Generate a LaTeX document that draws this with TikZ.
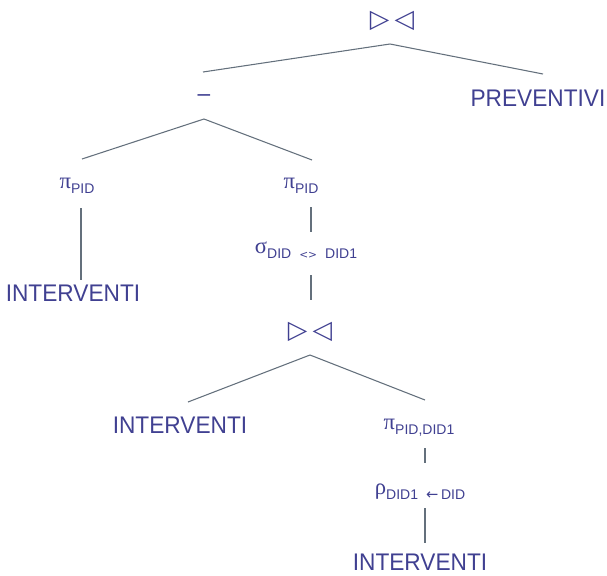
\documentclass[tikz,border=0pt]{standalone}
\usepackage{fontspec}
\setmainfont{Liberation Sans}
\newfontfamily\grkfont{Liberation Serif}
\newfontfamily\symfont{DejaVu Sans}
\usetikzlibrary{calc}
\definecolor{txtc}{RGB}{64,64,145}
\definecolor{linec}{RGB}{100,112,124}
\newcommand\bigtxt[1]{\scalebox{1}[1.06]{\fontsize{17}{20}\selectfont #1}}
\newcommand\opg[1]{{\grkfont\fontsize{17}{17}\selectfont #1}}
\newcommand\subs[1]{\raisebox{-3.5pt}{\fontsize{10.5}{12}\selectfont #1}}
\newcommand\tinys[1]{{\symfont\fontsize{8}{10}\selectfont #1}}
\newcommand\joinsym{{\symfont\fontsize{19}{20}\selectfont ▷\hspace{4pt}◁}}
\tikzset{
  lbl/.style={text=txtc, inner sep=0pt, outer sep=0pt, anchor=center},
  edge/.style={draw=linec, line width=0.8pt}
}
\begin{document}
\begin{tikzpicture}[x=0.75pt, y=-0.75pt]
\useasboundingbox (0,0) rectangle (607,575);
% nodes
\node[lbl] (j1) at (392,21) {\joinsym};
\node[lbl] (minus) at (204,98) {\bigtxt{–}};
\node[lbl] (prev) at (538,98) {\bigtxt{PREVENTIVI}};
\node[lbl] (p1) at (77,186) {\opg{π}\subs{PID}};
\node[lbl] (p2) at (301,186) {\opg{π}\subs{PID}};
\node[lbl] (int1) at (73,293) {\bigtxt{INTERVENTI}};
\node[lbl] (sig) at (306,250) {\opg{σ}\subs{DID\hspace{6pt}\tinys{<>}\hspace{6pt}DID1}};
\node[lbl] (j2) at (310,332) {\joinsym};
\node[lbl] (int2) at (180,425) {\bigtxt{INTERVENTI}};
\node[lbl] (p3) at (419,428) {\opg{π}\subs{PID,DID1}};
\node[lbl] (rho) at (420,492) {\opg{ρ}\subs{DID1\hspace{6pt}{\symfont\fontsize{11}{11}\selectfont ←}\hspace{2pt}DID}};
\node[lbl] (int3) at (420,562) {\bigtxt{INTERVENTI}};
% connectors
\draw[edge] ($(j1.center)+(-2,23)$) -- ($(minus.center)+(-1,-26)$);
\draw[edge] ($(j1.center)+(-2,23)$) -- ($(prev.center)+(5,-24)$);
\draw[edge] ($(minus.center)+(0,21)$) -- ($(p1.center)+(5,-27)$);
\draw[edge] ($(minus.center)+(0,21)$) -- ($(p2.center)+(11,-26)$);
\draw[edge] ($(p1.center)+(4,22)$) -- ($(int1.center)+(8,-13)$);
\draw[edge] ($(p2.center)+(10,21)$) -- ($(sig.center)+(5,-18)$);
\draw[edge] ($(sig.center)+(5,25)$) -- ($(j2.center)+(1,-32)$);
\draw[edge] ($(j2.center)+(0,23)$) -- ($(int2.center)+(8,-23)$);
\draw[edge] ($(j2.center)+(0,23)$) -- ($(p3.center)+(6,-28)$);
\draw[edge] ($(p3.center)+(6,20)$) -- ($(rho.center)+(5,-29)$);
\draw[edge] ($(rho.center)+(5,16)$) -- ($(int3.center)+(5,-19)$);
\end{tikzpicture}
\end{document}
